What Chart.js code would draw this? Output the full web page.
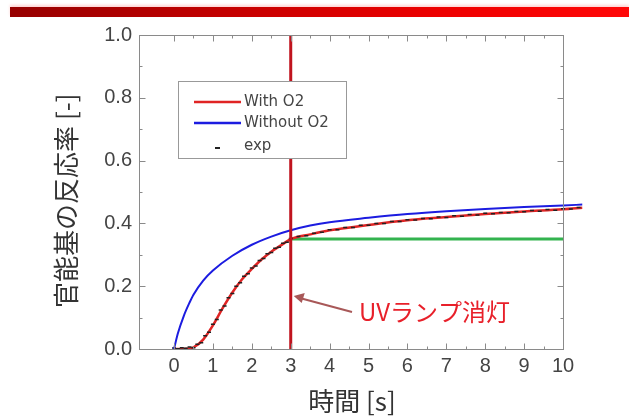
<!DOCTYPE html>
<html>
<head>
<meta charset="utf-8">
<script src="https://cdn.jsdelivr.net/npm/chart.js@4.4.0/dist/chart.umd.min.js"></script>
<style>
body { margin: 0; background: #fff; }
#wrap { position: relative; width: 629px; height: 420px; }
#bar { position: absolute; left: 10px; right: 0; top: 7px; height: 10px;
       background: linear-gradient(to right, #960000, #c40000 35%, #ee0000 70%, #ff0808);
       box-shadow: 0 -2px 3px rgba(255,150,150,0.4); }
</style>
</head>
<body>
<div id="wrap">
    <canvas id="chart" width="629" height="420"></canvas>
    <div id="bar"></div>
</div>
<script>
// model curve with O2 (time in s, conversion [-])
var withO2Time = [0, 0.25, 0.5, 0.75, 1, 1.25, 1.5, 1.75, 2, 2.25, 2.5, 2.75, 3, 3.5, 4, 5, 6, 7, 8, 9, 10, 10.5];
var withO2     = [0, 0, 0.005, 0.03, 0.075, 0.13, 0.18, 0.222, 0.255, 0.285, 0.31, 0.33, 0.35, 0.365, 0.378, 0.395, 0.41, 0.42, 0.43, 0.438, 0.445, 0.45];
// model curve without O2
var noO2Time   = [0, 0.1, 0.25, 0.4, 0.5, 0.75, 1, 1.5, 2, 2.5, 3, 3.5, 4, 5, 6, 7, 8, 9, 10, 10.5];
var withoutO2  = [0, 0.05, 0.105, 0.148, 0.173, 0.218, 0.25, 0.297, 0.332, 0.358, 0.378, 0.393, 0.404, 0.418, 0.43, 0.439, 0.446, 0.452, 0.457, 0.46];

// measured points
var expTime = [0, 0.1, 0.2, 0.3, 0.4, 0.5, 0.6, 0.7, 0.8, 0.9, 1.0, 1.1, 1.2, 1.3, 1.4, 1.5, 1.6, 1.7, 1.8, 1.9,
               2.0, 2.1, 2.2, 2.3, 2.4, 2.5, 2.6, 2.7, 2.8, 2.9, 3.0,
               3.2, 3.4, 3.6, 3.8, 4.0, 4.2, 4.4, 4.6, 4.8, 5.0, 5.2, 5.4, 5.6, 5.8, 6.0, 6.2, 6.4, 6.6, 6.8,
               7.0, 7.2, 7.4, 7.6, 7.8, 8.0, 8.2, 8.4, 8.6, 8.8, 9.0, 9.2, 9.4, 9.6, 9.8, 10.0, 10.2, 10.4];
var expRate = [0.003, 0.001, 0.004, 0.002, 0.006, 0.004, 0.015, 0.02, 0.042, 0.053, 0.079, 0.094, 0.124, 0.137, 0.163, 0.177, 0.2, 0.211, 0.232, 0.24,
               0.258, 0.264, 0.282, 0.288, 0.303, 0.307, 0.321, 0.324, 0.337, 0.34, 0.352,
               0.358, 0.361, 0.369, 0.372, 0.38, 0.38, 0.387, 0.387, 0.394, 0.394, 0.4, 0.4, 0.406, 0.406, 0.412, 0.411, 0.416, 0.415, 0.42,
               0.419, 0.424, 0.423, 0.428, 0.427, 0.432, 0.431, 0.435, 0.434, 0.438, 0.437, 0.441, 0.439, 0.444, 0.442, 0.447, 0.446, 0.451];

// UV lamp off marker and level reached at that moment
var uvOffTime = 3;
var plateauTime = [3, 10];
var plateauRate = [0.35, 0.35];

var xTicks = [0, 1, 2, 3, 4, 5, 6, 7, 8, 9, 10];
var yTicks = [0, 0.2, 0.4, 0.6, 0.8, 1.0];
var frameEnd = 10;   // right edge of the drawn frame; curves run a little past it

function pts(xs, ys) {
    return xs.map(function(x, i){ return {x: x, y: ys[i]}; });
}

var tickFont = {family: '"Liberation Sans", Arial, sans-serif', size: 20};
var cjkFont = '"Noto Sans CJK JP", "Noto Sans", sans-serif';

var frameTicks = {
    id: 'frameTicks',
    afterDraw: function(chart) {
        var ctx = chart.ctx, a = chart.chartArea, sx = chart.scales.x, sy = chart.scales.y;
        var right = Math.round(sx.getPixelForValue(frameEnd)) + 0.5;
        var left = Math.round(a.left) + 0.5, top = Math.round(a.top) + 0.5, bottom = Math.round(a.bottom) + 0.5;
        ctx.save();
        ctx.strokeStyle = '#8a8a8a';
        ctx.lineWidth = 1;
        ctx.strokeRect(left, top, right - left, bottom - top);
        ctx.beginPath();
        for (var i = 0; i <= frameEnd * 2; i++) {
            var px = Math.round(sx.getPixelForValue(i / 2)) + 0.5;
            var len = i % 2 === 0 ? 6 : 3;
            ctx.moveTo(px, bottom); ctx.lineTo(px, bottom - len);
            ctx.moveTo(px, top); ctx.lineTo(px, top + len);
        }
        for (var j = 0; j <= 10; j++) {
            var py = Math.round(sy.getPixelForValue(j / 10)) + 0.5;
            var l2 = j % 2 === 0 ? 6 : 3;
            ctx.moveTo(left, py); ctx.lineTo(left + l2, py);
            ctx.moveTo(right, py); ctx.lineTo(right - l2, py);
        }
        ctx.stroke();
        ctx.restore();
    }
};

var legendAndNote = {
    id: 'legendAndNote',
    afterDatasetsDraw: function(chart) {
        var ctx = chart.ctx, sx = chart.scales.x;
        var ds = chart.data.datasets;
        ctx.save();
        // legend box (sits over the lamp line)
        ctx.fillStyle = '#fff';
        ctx.fillRect(178, 81, 168, 77);
        ctx.strokeStyle = '#999';
        ctx.lineWidth = 1;
        ctx.strokeRect(178.5, 81.5, 168, 77);
        ctx.font = '15px "DejaVu Sans", sans-serif';
        ctx.textBaseline = 'middle';
        ctx.fillStyle = '#444';
        var rows = [[ds[3], 102], [ds[1], 123]];
        rows.forEach(function(r){
            ctx.strokeStyle = r[0].borderColor;
            ctx.lineWidth = 2.5;
            ctx.beginPath(); ctx.moveTo(194, r[1]); ctx.lineTo(241, r[1]); ctx.stroke();
            ctx.fillText(r[0].label, 244, r[1]);
        });
        ctx.strokeStyle = '#222';
        ctx.lineWidth = 2;
        ctx.beginPath(); ctx.moveTo(215, 148); ctx.lineTo(220, 148); ctx.stroke();
        ctx.fillText(ds[2].label, 244, 146);

        // arrow to the lamp-off line
        var tipX = sx.getPixelForValue(uvOffTime) + 3, tipY = 296;
        ctx.strokeStyle = '#a85858';
        ctx.fillStyle = '#a85858';
        ctx.lineWidth = 2;
        ctx.beginPath(); ctx.moveTo(352, 312); ctx.lineTo(tipX + 6, tipY + 2); ctx.stroke();
        ctx.beginPath();
        ctx.moveTo(tipX, tipY);
        ctx.lineTo(tipX + 11, tipY - 3);
        ctx.lineTo(tipX + 8, tipY + 7);
        ctx.closePath(); ctx.fill();

        ctx.fillStyle = '#e8202a';
        ctx.font = '24px ' + cjkFont;
        ctx.textBaseline = 'middle';
        ctx.fillText('UVランプ消灯', 359, 312);
        ctx.restore();
    }
};

new Chart(document.getElementById('chart'), {
    type: 'scatter',
    data: {
        datasets: [{
            label: 'lamp off',
            data: [{x: uvOffTime, y: 0}, {x: uvOffTime, y: 1.0}],
            showLine: true,
            borderColor: '#c0141e',
            borderWidth: 3,
            pointRadius: 0,
            order: 0
        }, {
            label: 'Without O2',
            data: pts(noO2Time, withoutO2),
            showLine: true,
            borderColor: '#1c1ce0',
            borderWidth: 2,
            pointRadius: 0,
            cubicInterpolationMode: 'monotone',
            order: 1
        }, {
            label: 'exp',
            data: pts(expTime, expRate),
            pointStyle: 'line',
            pointRadius: 2,
            borderColor: '#222',
            backgroundColor: '#222',
            borderWidth: 1.5,
            order: 2
        }, {
            label: 'With O2',
            data: pts(withO2Time, withO2),
            showLine: true,
            borderColor: '#e02424',
            borderWidth: 2.5,
            pointRadius: 0,
            cubicInterpolationMode: 'monotone',
            order: 3
        }, {
            label: 'plateau',
            data: pts(plateauTime, plateauRate),
            showLine: true,
            borderColor: '#33b34f',
            borderWidth: 3,
            pointRadius: 0,
            order: 4
        }]
    },
    options: {
        responsive: false,
        animation: false,
        layout: { padding: { left: 0, top: 35, right: 46.5, bottom: 0 } },
        plugins: { legend: { display: false }, tooltip: { enabled: false } },
        scales: {
            x: {
                type: 'linear',
                min: -0.9,
                max: 10.5,
                afterBuildTicks: function(s){ s.ticks = xTicks.map(function(v){ return {value: v}; }); },
                afterFit: function(s){ s.height = 71; },
                grid: { display: false, drawTicks: false },
                border: { display: false },
                ticks: { font: tickFont, color: '#444', padding: 5, maxRotation: 0,
                         callback: function(v){ return String(v); } },
                title: { display: true, text: '時間 [s]   ', color: '#333',
                         font: { family: cjkFont, size: 26 }, padding: { top: 0, bottom: 3 } }
            },
            y: {
                min: 0,
                max: 1,
                afterBuildTicks: function(s){ s.ticks = yTicks.map(function(v){ return {value: v}; }); },
                afterFit: function(s){ s.width = 139; },
                grid: { display: false, drawTicks: false },
                border: { display: false },
                ticks: { font: tickFont, color: '#444', padding: 7,
                         callback: function(v){ return v.toFixed(1); } },
                title: { display: true, text: '官能基の反応率 [-]   ', color: '#333',
                         font: { family: cjkFont, size: 26 }, padding: { top: 51, bottom: 0 } }
            }
        }
    },
    plugins: [frameTicks, legendAndNote]
});
</script>
</body>
</html>
